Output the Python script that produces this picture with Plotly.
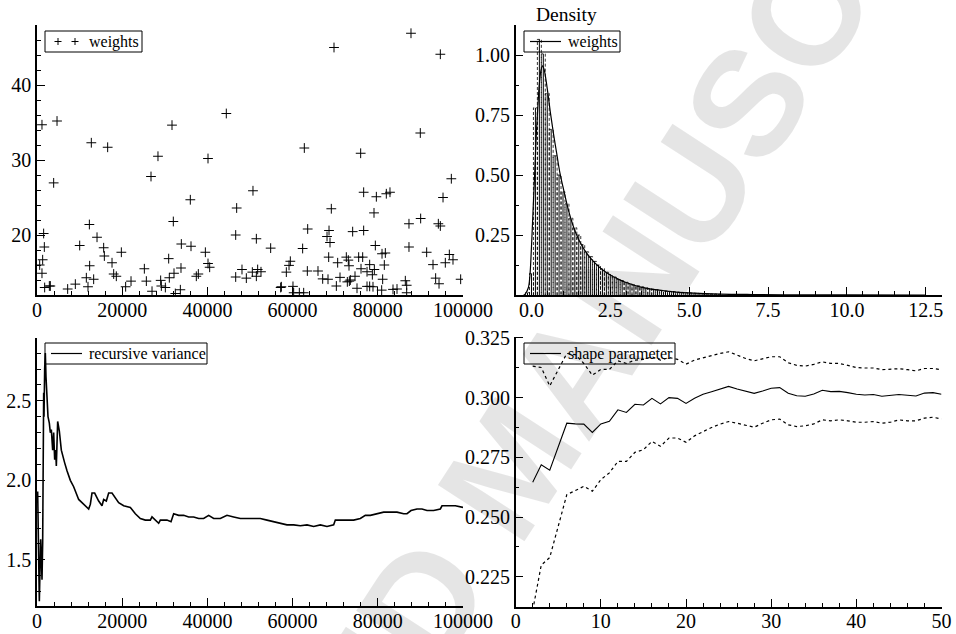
import plotly.graph_objects as go

FONT = "Liberation Serif, Tinos, Times New Roman, DejaVu Serif, serif"

# ---------------- top-left: weights scatter ----------------
w_index = [630, 1170, 1170, 1330, 1560, 1720, 1800, 2900, 3130, 3910, 4700, 7200, 9000, 10020,
           11580, 11970, 12290, 12360, 12750, 13300, 14090, 15650, 15810, 16590, 17610, 18000,
           18620, 19800, 20810, 22070, 25200, 25670, 26760, 27000, 28400, 29030, 29190, 30130,
           30910, 31060, 31690, 32000, 32160, 32470, 33650, 33800, 33880, 35990, 36150, 37400,
           37870, 39520, 40140, 40140, 40530, 44440, 46640, 46640, 46870, 48120, 49140, 50550,
           50700, 51490, 51490, 51800, 52580, 54850, 57200, 57360, 58530, 59160, 59470, 60090,
           60250, 61580, 62360, 62600, 62750, 63460, 63540, 65960, 67060, 68080, 68310, 68470,
           68550, 68780, 69090, 69720, 70270, 70580, 71130, 72610, 72850, 73080, 73240, 73320,
           73550, 74100, 74650, 75120, 75510, 75980, 76060, 76450, 76680, 76680, 77470, 77470,
           78090, 78090, 78720, 78870, 79110, 79190, 79420, 79660, 80910, 80990, 81140, 81530,
           81770, 82000, 82860, 83570, 84510, 86460, 86780, 86780, 87320, 87320, 87790, 89980,
           90060, 91470, 92960, 93580, 94370, 94210, 94680, 94680, 95310, 95850, 96790, 97260,
           97650, 99450]
w_value = [16.0, 34.7, 14.9, 16.7, 20.2, 18.4, 13.0, 13.2, 13.2, 26.95, 35.2, 12.8, 13.45, 18.6,
           14.3, 13.1, 21.4, 15.9, 32.3, 14.1, 19.7, 18.3, 17.2, 31.7, 16.3, 14.8,
           14.5, 17.7, 13.1, 13.85, 15.5, 13.85, 27.8, 12.5, 30.5, 13.95, 13.2, 13.0,
           16.85, 14.3, 34.65, 21.8, 14.9, 12.2, 12.7, 15.6, 18.8, 24.7, 18.5, 14.5,
           14.8, 17.7, 30.2, 16.2, 15.7, 36.2, 14.4, 20.0, 23.6, 15.4, 14.25, 15.05,
           25.9, 19.5, 14.5, 15.4, 15.1, 18.25, 13.0, 13.1, 15.05, 15.95, 16.5, 13.15,
           12.3, 12.3, 18.2, 12.3, 31.6, 15.2, 20.8, 15.2, 14.15, 19.8, 14.1, 17.05,
           20.6, 19.0, 23.5, 45.0, 13.2, 16.3, 14.35, 17.05, 13.75, 16.65, 15.9, 13.85,
           14.0, 20.45, 14.5, 12.9, 17.05, 30.9, 15.5, 17.05, 25.7, 20.6, 15.1, 13.15,
           13.15, 16.05, 14.7, 13.1, 22.95, 15.4, 18.6, 25.1, 12.65, 17.5, 14.1, 16.0,
           17.6, 25.5, 25.7, 12.75, 12.8, 13.9, 13.3, 12.3, 21.5, 18.4, 46.9, 33.6,
           22.2, 17.7, 16.05, 14.25, 13.5, 21.5, 44.1, 21.2, 25.0, 16.3, 17.4, 27.5,
           16.7, 14.1]

# ---------------- top-right: density histogram + smooth density ----------------
hist_centers = [-0.125, 0.0, 0.125, 0.25, 0.375, 0.5, 0.625, 0.75, 0.875, 1.0, 1.125, 1.25,
                1.375, 1.5, 1.625, 1.75, 1.875, 2.0, 2.125, 2.25, 2.375, 2.5, 2.625, 2.75,
                2.875, 3.0, 3.125, 3.25, 3.375, 3.5, 3.625, 3.75, 3.875, 4.0, 4.125, 4.25,
                4.375, 4.5, 4.625, 4.75, 4.875, 5.0, 5.125, 5.25, 5.375, 5.5, 5.625, 5.75,
                5.875, 6.0]
hist_density = [0.01, 0.09, 0.78, 1.065, 1.005, 0.84, 0.69, 0.58, 0.50, 0.43, 0.38, 0.32,
                0.28, 0.25, 0.21, 0.18, 0.16, 0.14, 0.125, 0.11, 0.095, 0.085, 0.075, 0.066,
                0.06, 0.053, 0.047, 0.042, 0.038, 0.034, 0.030, 0.027, 0.024, 0.022, 0.019, 0.017,
                0.015, 0.014, 0.012, 0.011, 0.010, 0.009, 0.008, 0.007, 0.006, 0.006, 0.005, 0.004,
                0.004, 0.003]
bin_width = 0.125

dens_x = [-0.25, -0.2, -0.1, -0.05, 0.0, 0.05, 0.1, 0.15, 0.2, 0.25, 0.3, 0.35, 0.4, 0.5,
          0.6, 0.7, 0.8, 0.9, 1.0, 1.2, 1.4, 1.6, 1.8, 2.0, 2.25, 2.5, 2.75, 3.0, 3.5, 4.0,
          4.5, 5.0, 6.0, 7.0, 8.0, 10.0, 12.5]
dens_y = [0.0, 0.004, 0.03, 0.08, 0.2, 0.35, 0.5, 0.66, 0.78, 0.88, 0.935, 0.955, 0.94, 0.86,
          0.76, 0.67, 0.59, 0.51, 0.45, 0.34, 0.26, 0.205, 0.165, 0.135, 0.105, 0.083, 0.066,
          0.052, 0.032, 0.021, 0.013, 0.009, 0.004, 0.002, 0.001, 0.0003, 0.0]

# ---------------- bottom-left: recursive variance ----------------
var_x = [156, 235, 391, 548, 704, 861, 1017, 1174, 1330, 1408, 1487, 1565, 1643, 1800, 1956,
         2113, 2347, 2582, 2895, 3130, 3365, 3678, 3912, 4147, 4382, 4538, 4851, 5243, 5712,
         6103, 6495, 7042, 7825, 8607, 9233, 9781, 10563, 11346, 12128, 12520, 12911, 13537,
         14085, 14476, 15258, 15650, 16275, 16823, 17606, 18388, 19171, 20344, 21909, 23083,
         24257, 25430, 26604, 26995, 27778, 28560, 28951, 30516, 31455, 32081, 33255, 34429,
         35603, 36776, 37950, 39124, 40297, 41471, 43036, 44601, 46166, 47731, 49296, 50861,
         52426, 53991, 55556, 57121, 58685, 60250, 61815, 63380, 64945, 66510, 68075, 69640,
         70031, 71205, 72770, 74335, 75900, 77074, 78247, 79812, 81377, 82942, 84507, 86072,
         86854, 87793, 89202, 90376, 91549, 93114, 94679, 95070, 96635, 98200, 100000]
var_y = [1.93, 1.71, 1.40, 1.24, 1.44, 1.63, 1.52, 1.375, 1.61, 1.815, 2.28, 2.55, 2.40, 2.70,
         2.80, 2.65, 2.55, 2.40, 2.36, 2.30, 2.32, 2.19, 2.30, 2.13, 2.19, 2.09, 2.37, 2.31,
         2.19, 2.14, 2.11, 2.06, 2.00, 1.96, 1.91, 1.88, 1.86, 1.84, 1.82, 1.85, 1.92, 1.92,
         1.89, 1.87, 1.84, 1.88, 1.87, 1.92, 1.92, 1.89, 1.86, 1.84, 1.83, 1.79, 1.76, 1.75,
         1.75, 1.77, 1.75, 1.73, 1.75, 1.75, 1.74, 1.79, 1.78, 1.78, 1.77, 1.77, 1.76, 1.76,
         1.78, 1.76, 1.76, 1.78, 1.77, 1.76, 1.76, 1.76, 1.76, 1.75, 1.74, 1.73, 1.72, 1.72,
         1.715, 1.72, 1.71, 1.72, 1.71, 1.72, 1.75, 1.75, 1.75, 1.75, 1.76, 1.78, 1.78, 1.79,
         1.80, 1.80, 1.80, 1.79, 1.79, 1.81, 1.82, 1.82, 1.81, 1.81, 1.82, 1.84, 1.84, 1.84,
         1.83]

# ---------------- bottom-right: shape parameter with bounds ----------------
shape_n = list(range(2, 51))
shape_est = [0.2646, 0.2719, 0.2696, 0.2796, 0.2893, 0.2890, 0.2889, 0.2854, 0.2890, 0.2901,
             0.2949, 0.2938, 0.2972, 0.2969, 0.2997, 0.2974, 0.3000, 0.2997, 0.2976, 0.2997,
             0.3014, 0.3025, 0.3036, 0.3047, 0.3036, 0.3028, 0.3018, 0.3028, 0.3039, 0.3042,
             0.3018, 0.3008, 0.3006, 0.3015, 0.3031, 0.3025, 0.3026, 0.3021, 0.3014, 0.3011,
             0.3013, 0.3006, 0.3008, 0.3013, 0.3010, 0.3007, 0.3019, 0.3021, 0.3014]
shape_upper = [0.3132, 0.3126, 0.3049, 0.3115, 0.3185, 0.3180, 0.3143, 0.3094, 0.3118, 0.3118,
               0.3154, 0.3143, 0.3157, 0.3160, 0.3171, 0.3157, 0.3168, 0.3160, 0.3140, 0.3157,
               0.3168, 0.3176, 0.3185, 0.3192, 0.3178, 0.3164, 0.3154, 0.3161, 0.3171, 0.3171,
               0.3146, 0.3135, 0.3132, 0.3139, 0.3150, 0.3143, 0.3143, 0.3135, 0.3126, 0.3124,
               0.3124, 0.3117, 0.3118, 0.3121, 0.3117, 0.3112, 0.3122, 0.3122, 0.3117]
shape_lower = [0.2110, 0.2299, 0.2331, 0.2463, 0.2594, 0.2611, 0.2629, 0.2608, 0.2657, 0.2685,
               0.2733, 0.2733, 0.2771, 0.2782, 0.2817, 0.2796, 0.2831, 0.2831, 0.2813, 0.2840,
               0.2858, 0.2875, 0.2889, 0.2900, 0.2893, 0.2886, 0.2876, 0.2893, 0.2907, 0.2910,
               0.2886, 0.2879, 0.2882, 0.2890, 0.2907, 0.2903, 0.2907, 0.2903, 0.2897, 0.2897,
               0.2900, 0.2893, 0.2897, 0.2907, 0.2903, 0.2903, 0.2914, 0.2918, 0.2911]

legend_labels = ["weights", "weights", "recursive variance", "shape parameter"]

W, H = 956, 634

def px(x):
    return x / W

def py(y):
    return 1 - y / H

fig = go.Figure()

# top-left
fig.add_trace(go.Scatter(x=w_index, y=w_value, mode="markers", name=legend_labels[0],
                         marker=dict(symbol="cross-thin", size=7, color="black",
                                     line=dict(width=1, color="black")),
                         xaxis="x", yaxis="y", showlegend=False))

# top-right: histogram outlines (dashed) built from bin centres / heights
hx, hy, sx, sy = [], [], [], []
for c, h in zip(hist_centers, hist_density):
    x0, x1 = c - bin_width / 2, c + bin_width / 2
    hx += [x0, x0, x1, x1, None]
    hy += [0, h, h, 0, None]
    sx += [c, c, None]
    sy += [0, h, None]
fig.add_trace(go.Scatter(x=sx, y=sy, mode="lines", line=dict(color="black", width=1),
                         showlegend=False, xaxis="x2", yaxis="y2", hoverinfo="skip"))
fig.add_trace(go.Scatter(x=hx, y=hy, mode="lines",
                         line=dict(color="black", width=0.8, dash="3px,2px"),
                         showlegend=False, xaxis="x2", yaxis="y2", hoverinfo="skip"))
fig.add_trace(go.Scatter(x=dens_x, y=dens_y, mode="lines", name=legend_labels[1],
                         line=dict(color="black", width=1.2, shape="spline"),
                         xaxis="x2", yaxis="y2", showlegend=False))

# bottom-left
fig.add_trace(go.Scatter(x=var_x, y=var_y, mode="lines", name=legend_labels[2],
                         line=dict(color="black", width=1.6),
                         xaxis="x3", yaxis="y3", showlegend=False))

# bottom-right
fig.add_trace(go.Scatter(x=shape_n, y=shape_est, mode="lines", name=legend_labels[3],
                         line=dict(color="black", width=1.1),
                         xaxis="x4", yaxis="y4", showlegend=False))
fig.add_trace(go.Scatter(x=shape_n, y=shape_upper, mode="lines", showlegend=False,
                         line=dict(color="black", width=1.2, dash="dot"),
                         xaxis="x4", yaxis="y4"))
fig.add_trace(go.Scatter(x=shape_n, y=shape_lower, mode="lines", showlegend=False,
                         line=dict(color="black", width=1.2, dash="dot"),
                         xaxis="x4", yaxis="y4"))

tickfont = dict(family=FONT, size=20, color="black")

def axis(domain, rng, dtick, minor_dtick, anchor, fmt, tick0=0, **kw):
    d = dict(domain=domain, range=rng, dtick=dtick, tick0=tick0, anchor=anchor,
             showline=True, linecolor="black", linewidth=1.5, mirror=False,
             ticks="inside", ticklen=8, tickwidth=1, tickcolor="black",
             minor=dict(ticks="inside", ticklen=4, tickwidth=1, tickcolor="black",
                        dtick=minor_dtick, tick0=tick0),
             showgrid=False, zeroline=False, tickfont=tickfont, tickformat=fmt,
             automargin=False)
    d.update(kw)
    return d

TL_X = [px(37), px(463)]
TR_X = [px(515.7), px(941.5)]
TOP_Y = [py(295), py(25)]
BL_Y = [py(606), py(338)]
BR_Y = [py(606.7), py(336.7)]

fig.update_layout(
    width=W, height=H,
    margin=dict(l=0, r=0, t=0, b=0),
    paper_bgcolor="white", plot_bgcolor="white",
    font=dict(family=FONT, color="black"),
    xaxis=axis(TL_X, [0, 100000], 20000, 4000, "y", "d", ticklabelstandoff=-4),
    yaxis=axis(TOP_Y, [12, 48], 10, 2, "x", "d"),
    xaxis2=axis(TR_X, [-0.5, 13], 2.5, 0.5, "y2", ".1f", ticklabelstandoff=-4),
    yaxis2=axis(TOP_Y, [0, 1.125], None, 0.125, "x2", ".2f",
                tickmode="array", tickvals=[0.25, 0.5, 0.75, 1.0]),
    xaxis3=axis(TL_X, [0, 100000], 20000, 4000, "y3", "d", ticklabelstandoff=-4),
    yaxis3=axis(BL_Y, [1.21, 2.895], 0.5, 0.1, "x3", ".1f"),
    xaxis4=axis(TR_X, [0, 50], 10, 2, "y4", "d", ticklabelstandoff=-4),
    yaxis4=axis(BR_Y, [0.2125, 0.3255], 0.025, 0.0125, "x4", ".3f"),
    showlegend=False,
)

# ---- hand-drawn legend boxes (gnuplot style) ----
shapes = []
def legend_box(x0, y0, x1, y1, label, kind):
    shapes.append(dict(type="rect", xref="paper", yref="paper",
                       x0=px(x0), x1=px(x1), y0=py(y1), y1=py(y0),
                       line=dict(color="black", width=1), fillcolor="rgba(0,0,0,0)"))
    ym = (y0 + y1) / 2
    if kind == "line":
        shapes.append(dict(type="line", xref="paper", yref="paper",
                           x0=px(x0 + 6), x1=px(x0 + 37), y0=py(ym), y1=py(ym),
                           line=dict(color="black", width=1.2)))
    else:
        for cx in (x0 + 13, x0 + 30):
            shapes.append(dict(type="line", xref="paper", yref="paper",
                               x0=px(cx - 3.5), x1=px(cx + 3.5), y0=py(ym), y1=py(ym),
                               line=dict(color="black", width=1)))
            shapes.append(dict(type="line", xref="paper", yref="paper",
                               x0=px(cx), x1=px(cx), y0=py(ym - 3.5), y1=py(ym + 3.5),
                               line=dict(color="black", width=1)))
    fig.add_annotation(text=label, x=px(x0 + 42), y=py(ym), xref="paper", yref="paper",
                       showarrow=False, xanchor="left", yanchor="middle",
                       font=dict(family=FONT, size=16, color="black"))

legend_box(45, 31, 142, 52, legend_labels[0], "markers")
legend_box(524, 31, 620, 52, legend_labels[1], "line")
legend_box(45, 343, 207, 364, legend_labels[2], "line")
legend_box(524, 343, 675, 364, legend_labels[3], "line")
fig.update_layout(shapes=shapes)

fig.add_annotation(text="Density", x=px(566), y=py(15), xref="paper", yref="paper",
                   showarrow=False, font=dict(family=FONT, size=19.5, color="black"),
                   xanchor="center", yanchor="middle")

# watermark
fig.add_annotation(text="<b>ACCEPTED MANUSCRIPT</b>", x=px(512), y=py(465), xref="paper",
                   yref="paper", showarrow=False, textangle=-57,
                   font=dict(family="Liberation Sans", size=150, color="rgba(0,0,0,0.10)"),
                   xanchor="center", yanchor="middle")

fig.write_html("out.html", config={"displayModeBar": False},
               post_script="document.body.style.margin='0';document.body.style.overflow='hidden';")
